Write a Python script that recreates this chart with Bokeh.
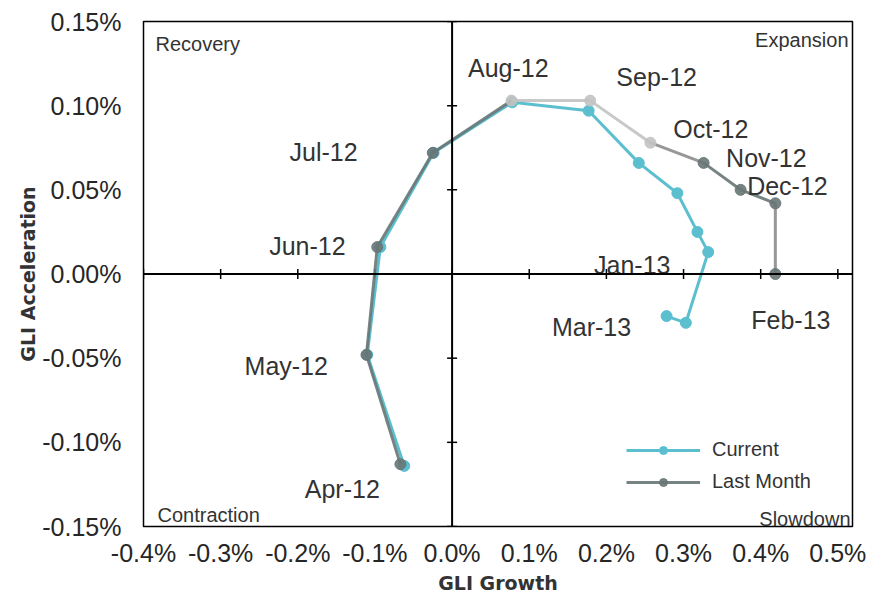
from bokeh.plotting import figure
from bokeh.models import (Range1d, FixedTicker, PrintfTickFormatter, Span, Label,
                          Legend, LegendItem, ColumnDataSource)
from bokeh.core.properties import value
from bokeh.embed import file_html
from bokeh.resources import INLINE

# ---------------- data ----------------
months = ["Apr-12", "May-12", "Jun-12", "Jul-12", "Aug-12", "Sep-12",
          "Oct-12", "Nov-12", "Dec-12", "Jan-13", "Feb-13", "Mar-13"]
current_growth = [-0.062, -0.110, -0.093, -0.024, 0.078, 0.177,
                  0.242, 0.292, 0.318, 0.332, 0.303, 0.278]
current_accel = [-0.114, -0.048, 0.016, 0.072, 0.102, 0.097,
                 0.066, 0.048, 0.025, 0.013, -0.029, -0.025]
last_growth = [-0.067, -0.111, -0.097, -0.025, 0.077, 0.179,
               0.257, 0.326, 0.374, 0.419, 0.419]
last_accel = [-0.113, -0.048, 0.016, 0.072, 0.103, 0.103,
              0.078, 0.066, 0.050, 0.042, 0.000]
x_ticks = [-0.4, -0.3, -0.2, -0.1, 0.0, 0.1, 0.2, 0.3, 0.4, 0.5]
y_ticks = [-0.15, -0.10, -0.05, 0.0, 0.05, 0.10, 0.15]
quadrant_names = ["Recovery", "Expansion", "Contraction", "Slowdown"]

# ---------------- styles ----------------
CYAN = "#5bbfcf"
DARK = "#687676"
MID = "#8c8c8c"
LIGHT = "#c2c2c2"
last_point_colors = [DARK, DARK, DARK, DARK, LIGHT, LIGHT, LIGHT, DARK, DARK, DARK, DARK]
last_seg_colors = [DARK, DARK, DARK, DARK, LIGHT, LIGHT, MID, DARK, DARK, MID]
label_dx = [-62, -81, -73, -110, -4, 68, 72, 89, 90, -76, 105, -75]
label_dy = [23, 11, -1, -1, -34, -34, -34, -35, -46, 13, -3, 11]
FONT = "Liberation Sans"

X_MAX = 0.519
p = figure(width=875, height=604,
           x_range=Range1d(-0.4, X_MAX), y_range=Range1d(-0.15, 0.15),
           output_backend="svg", toolbar_location=None,
           min_border_left=143, min_border_right=23,
           min_border_top=21, min_border_bottom=78)
p.xgrid.visible = False
p.ygrid.visible = False
p.outline_line_color = "black"
p.outline_line_width = 1.5
p.background_fill_color = "white"
p.border_fill_color = "white"

# axes
for ax in (p.xaxis[0], p.yaxis[0]):
    ax.axis_line_color = None
    ax.major_tick_line_color = None
    ax.minor_tick_line_color = None
    ax.major_tick_out = 0
    ax.major_tick_in = 0
    ax.major_label_text_font = FONT
    ax.major_label_text_font_size = "25px"
    ax.major_label_text_color = "#262626"
    ax.axis_label_text_font = "DejaVu Sans"
    ax.axis_label_text_font_style = "bold"
    ax.axis_label_text_font_size = "19px"
    ax.axis_label_text_color = "#333333"

p.xaxis.ticker = FixedTicker(ticks=x_ticks)
p.yaxis.ticker = FixedTicker(ticks=y_ticks)
p.xaxis.formatter = PrintfTickFormatter(format="%.1f%%")
p.yaxis.formatter = PrintfTickFormatter(format="%.2f%%")
p.xaxis.axis_label = "GLI Growth"
p.yaxis.axis_label = "GLI Acceleration"
p.xaxis.major_label_standoff = 12
p.yaxis.major_label_standoff = 22
p.xaxis.axis_label_standoff = 2
p.yaxis.axis_label_standoff = 0

# zero lines
p.add_layout(Span(location=0, dimension="height", line_color="black", line_width=2))
p.add_layout(Span(location=0, dimension="width", line_color="black", line_width=2))
# small tick marks on zero lines
p.scatter(x=x_ticks, y=[0] * len(x_ticks), marker="dash", angle=1.5708,
          size=10, line_color="black", line_width=1.5)
p.scatter(x=[0] * len(y_ticks), y=y_ticks, marker="dash",
          size=10, line_color="black", line_width=1.5)

# current series
cur_line = p.line(current_growth, current_accel, line_color=CYAN, line_width=3)
cur_pts = p.scatter(current_growth, current_accel, size=11, fill_color=CYAN,
                    line_color=CYAN)

# last month series
seg_src = ColumnDataSource(dict(x0=last_growth[:-1], y0=last_accel[:-1],
                                x1=last_growth[1:], y1=last_accel[1:],
                                c=last_seg_colors))
last_seg = p.segment("x0", "y0", "x1", "y1", source=seg_src, line_color="c",
                     line_width=3, line_alpha=0.9)
pt_src = ColumnDataSource(dict(x=last_growth, y=last_accel, c=last_point_colors))
last_pts = p.scatter("x", "y", source=pt_src, size=11, fill_color="c",
                     line_color="c", fill_alpha=0.9, line_alpha=0.9)

# month labels
lab_src = ColumnDataSource(dict(x=current_growth, y=current_accel, t=months,
                                dx=label_dx, dy=label_dy))
p.text("x", "y", text="t", source=lab_src, x_offset="dx", y_offset="dy",
       text_align="center", text_baseline="middle",
       text_font=value(FONT), text_font_size="25px", text_color="#333333")

# quadrant labels
qkw = dict(text_font=FONT, text_font_size="20px", text_color="#333333")
p.add_layout(Label(x=-0.4, y=0.15, text=quadrant_names[0], x_offset=12, y_offset=-22,
                   text_align="left", text_baseline="alphabetic", **qkw))
p.add_layout(Label(x=X_MAX, y=0.15, text=quadrant_names[1], x_offset=-4, y_offset=-18,
                   text_align="right", text_baseline="alphabetic", **qkw))
p.add_layout(Label(x=-0.4, y=-0.15, text=quadrant_names[2], x_offset=14, y_offset=12,
                   text_align="left", text_baseline="alphabetic", **qkw))
p.add_layout(Label(x=X_MAX, y=-0.15, text=quadrant_names[3], x_offset=-2, y_offset=8,
                   text_align="right", text_baseline="alphabetic", **qkw))

# legend
legend = Legend(items=[
    LegendItem(label="Current", renderers=[cur_line, cur_pts]),
    LegendItem(label="Last Month", renderers=[last_seg, last_pts], index=8),
], location=(483, 33), orientation="vertical",
    glyph_width=74, glyph_height=20, label_height=20, spacing=9, padding=5,
    label_standoff=12, label_text_font=FONT, label_text_font_size="20px",
    label_text_color="#333333", background_fill_alpha=0, border_line_color=None)
p.add_layout(legend)

open("out.html", "w").write(file_html(p, INLINE))
